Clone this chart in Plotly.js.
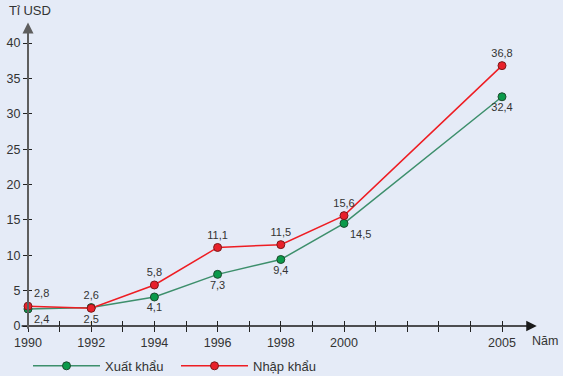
<!DOCTYPE html>
<html>
<head>
<meta charset="utf-8">
<script src="https://cdn.plot.ly/plotly-3.0.1.min.js"></script>
<style>html,body{margin:0;padding:0;background:#e5ebf7;}#chart{width:563px;height:376px;}</style>
</head>
<body>
<div id="chart"></div>
<script>
// ---- data ----
const years = [1990, 1992, 1994, 1996, 1998, 2000, 2005];
const xuatKhau = [2.4, 2.6, 4.1, 7.3, 9.4, 14.5, 32.4];
const nhapKhau = [2.8, 2.5, 5.8, 11.1, 11.5, 15.6, 36.8];
const xTickVals = [1990,1991,1992,1993,1994,1995,1996,1997,1998,1999,2000,2001,2002,2003,2004,2005];
const xTickLabels = ['1990','','1992','','1994','','1996','','1998','','2000','','','','','2005'];
const yTickVals = [0,5,10,15,20,25,30,35,40];
const seriesNames = ['Xuất khẩu', 'Nhập khẩu'];

const fmt = v => v.toFixed(1).replace('.', ',');
const BG = '#e5ebf7';
const FONT = 'Liberation Sans, Arial, sans-serif';
const TXT = '#333333';

const xkPos = ['bottom right','top center','bottom center','bottom center','bottom center','bottom right','bottom center'];
const nkPos = ['top right','bottom center','top center','top center','top center','top center','top center'];

const traces = [
  {
    x: years, y: xuatKhau, name: seriesNames[0], type: 'scatter', mode: 'lines+markers+text',
    text: xuatKhau.map(fmt), textposition: xkPos,
    textfont: {family: FONT, size: 11, color: TXT},
    line: {color: '#3d8f6c', width: 1.5},
    marker: {color: '#0a9a4a', size: 8, line: {color: '#1d4a2e', width: 1}},
    cliponaxis: false
  },
  {
    x: years, y: nhapKhau, name: seriesNames[1], type: 'scatter', mode: 'lines+markers+text',
    text: nhapKhau.map(fmt), textposition: nkPos,
    textfont: {family: FONT, size: 11, color: TXT},
    line: {color: '#ee1d23', width: 1.5},
    marker: {color: '#e8202a', size: 8, line: {color: '#7a1a1a', width: 1}},
    cliponaxis: false
  },
  {x: [], y: [], xaxis: 'x2', yaxis: 'y2', showlegend: false, hoverinfo: 'skip'}
];

const xRange = [1990, 1990 + 525/31.6];
const yRange = [0, 316/7.075];

const layout = {
  width: 563, height: 376,
  margin: {l: 28, r: 10, t: 10, b: 50, autoexpand: false},
  paper_bgcolor: BG, plot_bgcolor: BG,
  font: {family: FONT, color: TXT},
  showlegend: true,
  legend: {
    orientation: 'h', x: 0, xanchor: 'left', yref: 'container', y: 0.027, yanchor: 'middle',
    font: {family: FONT, size: 13, color: TXT}, bgcolor: 'rgba(0,0,0,0)',
    itemwidth: 67, entrywidth: 66, entrywidthmode: 'pixels'
  },
  xaxis: {
    range: xRange, showgrid: false, zeroline: false, showline: false,
    tickvals: xTickVals, ticktext: xTickLabels, ticks: 'outside', ticklen: 5, tickwidth: 1, tickcolor: '#222',
    tickfont: {family: FONT, size: 12.5, color: TXT}, fixedrange: true
  },
  xaxis2: {
    range: xRange, overlaying: 'x', anchor: 'y', side: 'bottom', showgrid: false, zeroline: false, showline: false,
    tickvals: xTickVals, ticks: 'inside', ticklen: 5, tickwidth: 1, tickcolor: '#222', showticklabels: false
  },
  yaxis: {
    range: yRange, showgrid: false, zeroline: false, showline: false,
    tickvals: yTickVals, ticks: 'outside', ticklen: 4, tickwidth: 1, tickcolor: '#222',
    tickfont: {family: FONT, size: 12.5, color: TXT}, fixedrange: true
  },
  yaxis2: {
    range: yRange, overlaying: 'y', anchor: 'x', side: 'left', showgrid: false, zeroline: false, showline: false,
    tickvals: yTickVals.slice(1), ticks: 'inside', ticklen: 4, tickwidth: 1, tickcolor: '#222', showticklabels: false
  },
  annotations: [
    {x: 2006.1, y: 0, xref: 'x', yref: 'y', ax: 1989.75, ay: 0, axref: 'x', ayref: 'y',
     text: '', showarrow: true, arrowhead: 2, arrowsize: 1.4, arrowwidth: 1.5, arrowcolor: '#1a1a1a'},
    {x: 1990, y: 42.9, xref: 'x', yref: 'y', ax: 1990, ay: -0.6, axref: 'x', ayref: 'y',
     text: '', showarrow: true, arrowhead: 2, arrowsize: 1.1, arrowwidth: 2, arrowcolor: '#5e5e5e'},
    {x: -0.04, y: 0.997, xref: 'paper', yref: 'paper', xanchor: 'left', yanchor: 'middle',
     text: 'Tỉ USD', showarrow: false, font: {family: FONT, size: 13, color: TXT}},
    {x: 2006.36, y: -0.0475, xref: 'x', yref: 'paper', xanchor: 'center', yanchor: 'middle',
     text: 'Năm', showarrow: false, font: {family: FONT, size: 12.5, color: TXT}}
  ]
};

Plotly.newPlot('chart', traces, layout, {displayModeBar: false, staticPlot: true});
</script>
</body>
</html>
